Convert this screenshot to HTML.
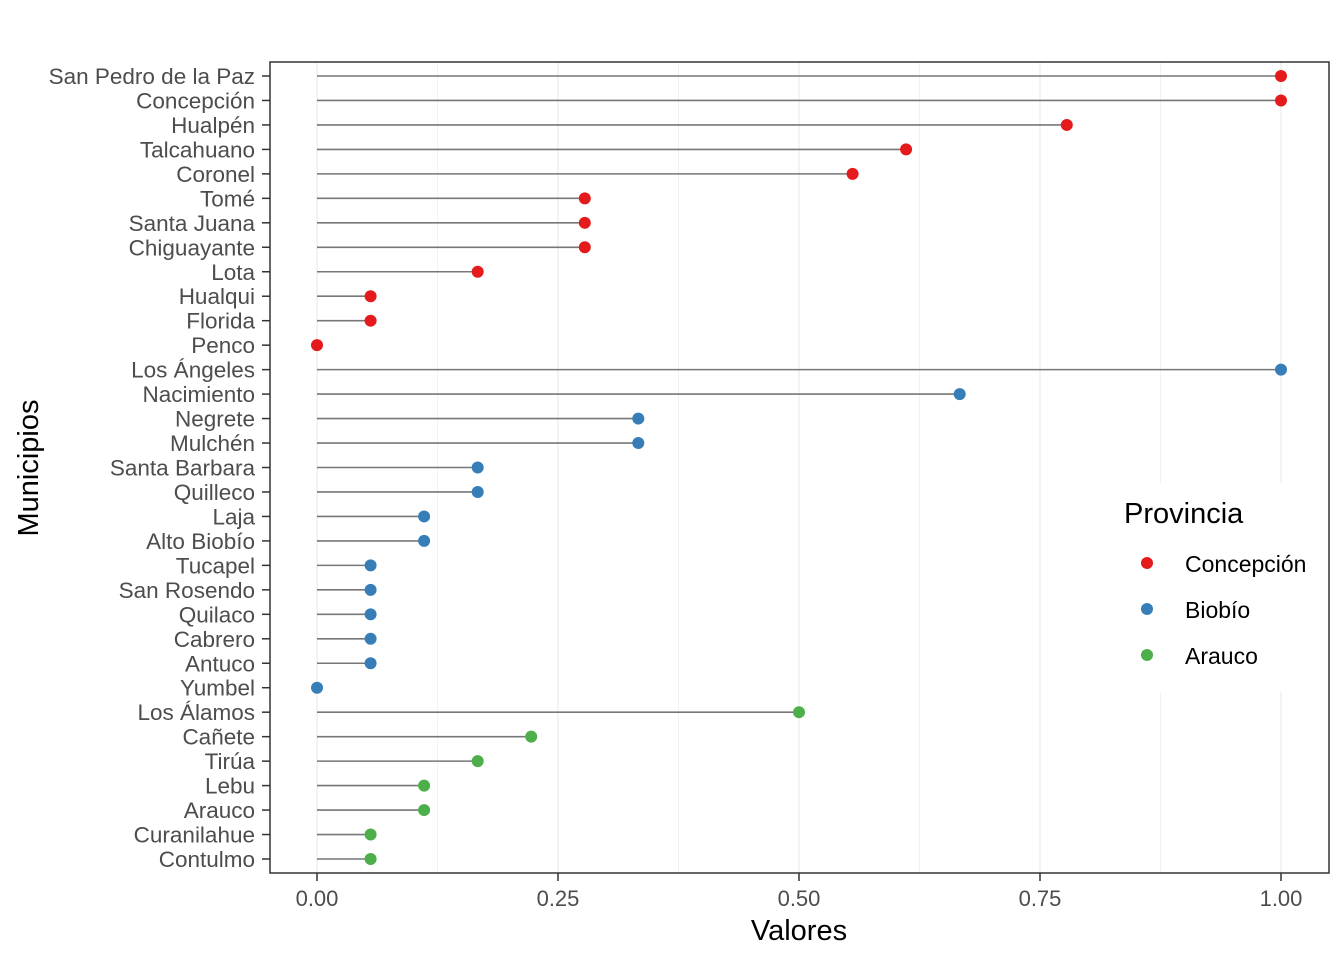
<!DOCTYPE html>
<html><head><meta charset="utf-8"><style>
body{margin:0;background:#fff}
text{font-family:"Liberation Sans",Arial,sans-serif}
</style></head><body>
<svg id="chart" width="1344" height="960" xmlns="http://www.w3.org/2000/svg">
<rect width="1344" height="960" fill="#fff"/>
<g id="grid"></g><g id="marks"></g><g id="axes"></g>
</svg>
<script>
const categories=["San Pedro de la Paz","Concepción","Hualpén","Talcahuano","Coronel","Tomé","Santa Juana","Chiguayante","Lota","Hualqui","Florida","Penco","Los Ángeles","Nacimiento","Negrete","Mulchén","Santa Barbara","Quilleco","Laja","Alto Biobío","Tucapel","San Rosendo","Quilaco","Cabrero","Antuco","Yumbel","Los Álamos","Cañete","Tirúa","Lebu","Arauco","Curanilahue","Contulmo"];
const values=[1,1,0.7778,0.6111,0.5556,0.2778,0.2778,0.2778,0.1667,0.0556,0.0556,0,1,0.6667,0.3333,0.3333,0.1667,0.1667,0.1111,0.1111,0.0556,0.0556,0.0556,0.0556,0.0556,0,0.5,0.2222,0.1667,0.1111,0.1111,0.0556,0.0556];
const provinces=["Concepción","Concepción","Concepción","Concepción","Concepción","Concepción","Concepción","Concepción","Concepción","Concepción","Concepción","Concepción","Biobío","Biobío","Biobío","Biobío","Biobío","Biobío","Biobío","Biobío","Biobío","Biobío","Biobío","Biobío","Biobío","Biobío","Arauco","Arauco","Arauco","Arauco","Arauco","Arauco","Arauco"];
const legendNames=["Concepción","Biobío","Arauco"];
const xTicks=[0,0.25,0.5,0.75,1];
const xTickLabels=["0.00","0.25","0.50","0.75","1.00"];
const colors={"Concepción":"#E41A1C","Biobío":"#377EB8","Arauco":"#4DAF4A"};
const NS="http://www.w3.org/2000/svg";
const L=270,R=1329,T=62,B=873;
const x=v=>317+v*964;
const y=i=>76+i*(859-76)/(categories.length-1);
function mk(tag,attrs,parent,txt){const e=document.createElementNS(NS,tag);for(const k in attrs)e.setAttribute(k,attrs[k]);if(txt!==undefined)e.textContent=txt;parent.appendChild(e);return e;}
const grid=document.getElementById('grid'),marks=document.getElementById('marks'),axes=document.getElementById('axes');
for(let i=0;i<xTicks.length;i++){
 const g=mk('line',{x1:x(xTicks[i]),x2:x(xTicks[i]),y1:T,y2:B,stroke:'#ebebeb','stroke-width':1.2},grid);
 
 
 if(i<xTicks.length-1){const m=(xTicks[i]+xTicks[i+1])/2;
 const g2=mk('line',{x1:x(m),x2:x(m),y1:T,y2:B,stroke:'#f2f2f2','stroke-width':1},grid);
 
 }
}
categories.forEach((c,i)=>{
 const s=mk('line',{x1:x(0),x2:x(values[i]),y1:y(i),y2:y(i),stroke:'#777','stroke-width':1.6},marks);
 
 
 const p=mk('circle',{cx:x(values[i]),cy:y(i),r:6,fill:colors[provinces[i]]},marks);
 
 
 const t=mk('text',{x:255,y:y(i)+8,'text-anchor':'end','font-size':22.5,fill:'#4d4d4d'},axes,c);
 
 
 const tk=mk('line',{x1:262,x2:270,y1:y(i),y2:y(i),stroke:'#333','stroke-width':1.5},axes);
 
 
});
xTicks.forEach((v,i)=>{
 const tk=mk('line',{x1:x(v),x2:x(v),y1:B,y2:B+8,stroke:'#333','stroke-width':1.5},axes);
 
 
 const t=mk('text',{x:x(v),y:906,'text-anchor':'middle','font-size':22,fill:'#4d4d4d'},axes,xTickLabels[i]);
 
 
});
const fr=mk('rect',{x:L,y:T,width:R-L,height:B-T,fill:'none',stroke:'#333','stroke-width':1.5},axes);


const xt=mk('text',{x:799,y:940,'text-anchor':'middle','font-size':29,fill:'#000'},axes,'Valores');


const yt=mk('text',{x:38,y:468,'text-anchor':'middle','font-size':29,fill:'#000',transform:'rotate(-90 38 468)'},axes,'Municipios');


const lg=mk('g',{},axes);


mk('rect',{x:1104,y:483,width:224,height:209,fill:'#fff'},lg);
const lt=mk('text',{x:1124,y:523,'font-size':29,fill:'#000'},lg,'Provincia');


legendNames.forEach((n,i)=>{
 const cy=563+i*46;
 const c=mk('circle',{cx:1147,cy:cy,r:6,fill:colors[n]},lg);
 
 
 const t=mk('text',{x:1185,y:cy+9,'font-size':23,fill:'#000'},lg,n);
 
 
});
</script>
</body></html>
